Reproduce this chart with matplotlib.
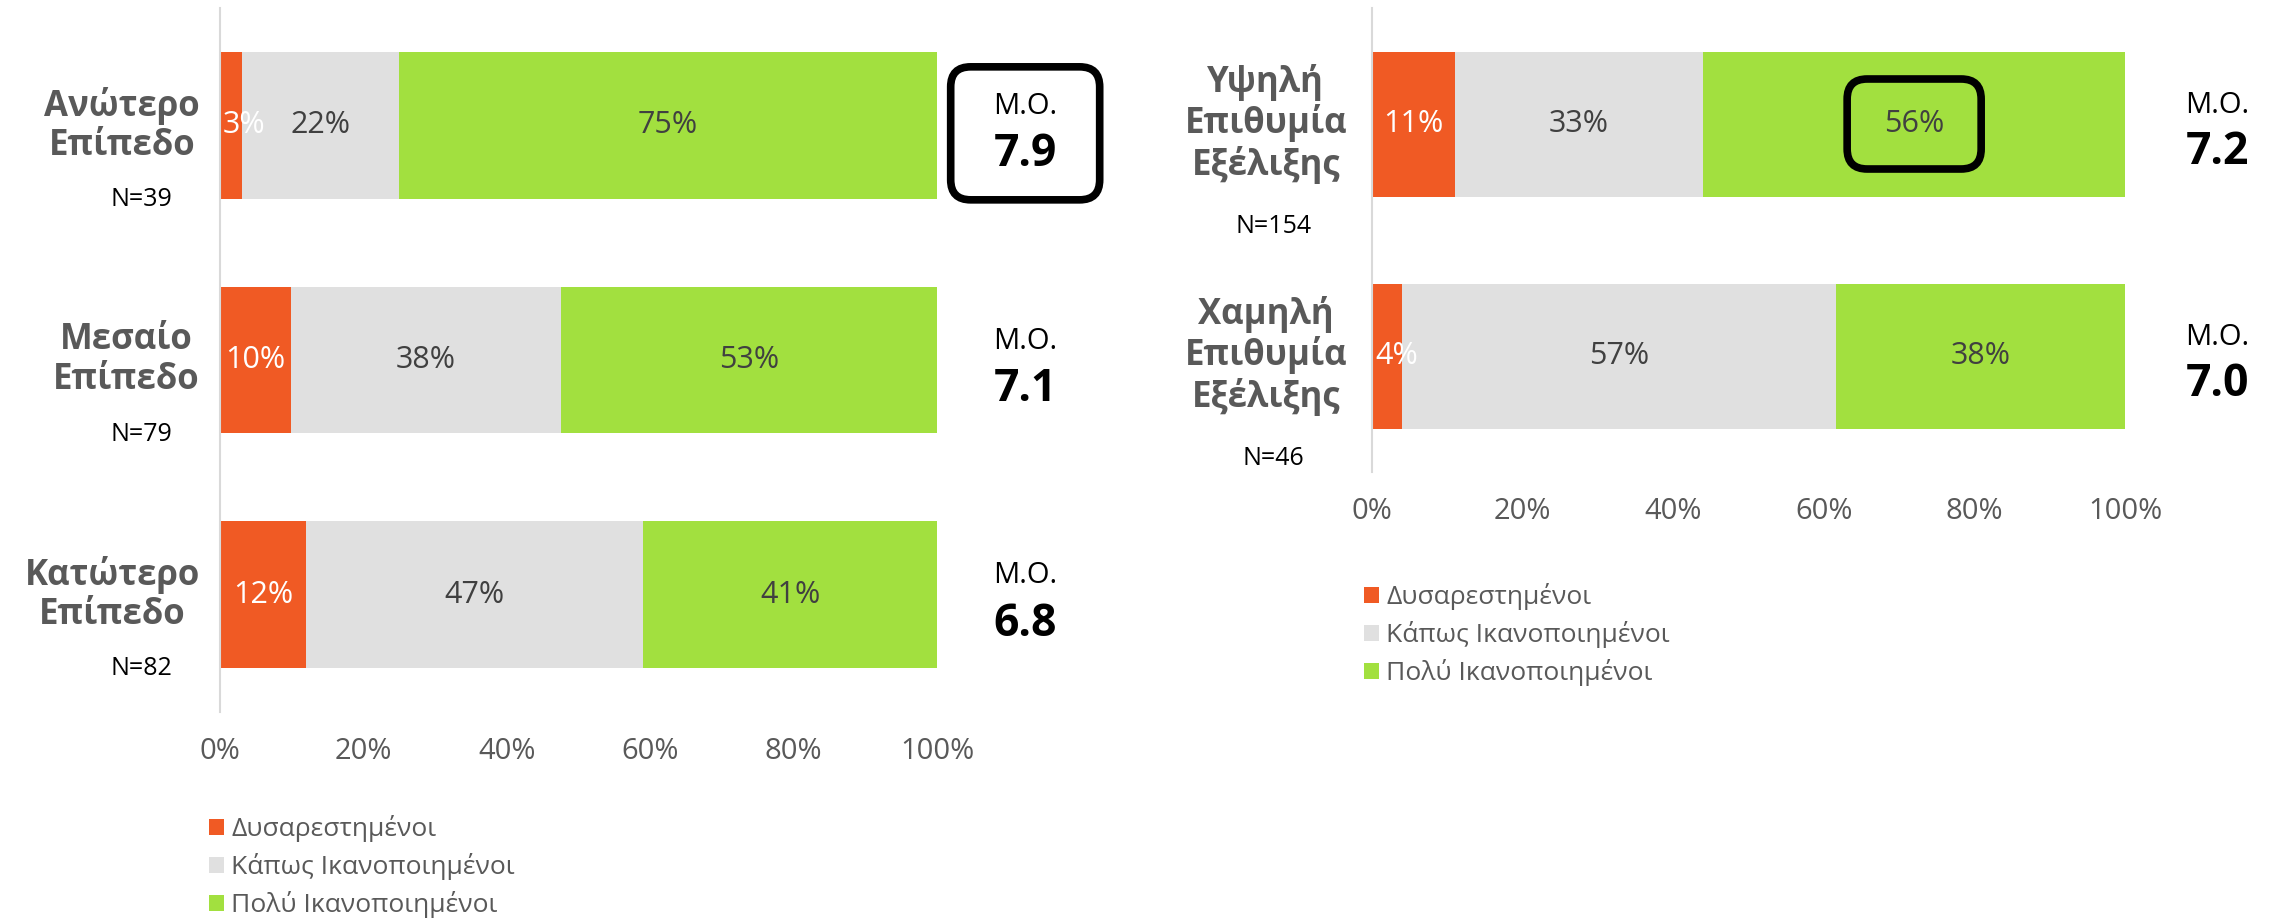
import numpy as np
import matplotlib.pyplot as plt
from matplotlib.patches import FancyBboxPatch
from matplotlib.transforms import IdentityTransform

plt.rcParams['font.family'] = ['Open Sans', 'DejaVu Sans']

# Σειρές και χρώματα
series = ['Δυσαρεστημένοι', 'Κάπως Ικανοποιημένοι', 'Πολύ Ικανοποιημένοι']
colors = ['#F05A24', '#E0E0E0', '#A2E03F']

# Αριστερό διάγραμμα: επίπεδο θέσης
left_cats = ['Ανώτερο\nΕπίπεδο', 'Μεσαίο\nΕπίπεδο', 'Κατώτερο\nΕπίπεδο']
left_n = ['N=39', 'N=79', 'N=82']
left_dis = [3, 10, 12]
left_some = [22, 38, 47]
left_very = [75, 53, 41]
left_mean = ['7.9', '7.1', '6.8']

# Δεξί διάγραμμα: επιθυμία εξέλιξης
right_cats = ['Υψηλή\nΕπιθυμία\nΕξέλιξης', 'Χαμηλή\nΕπιθυμία\nΕξέλιξης']
right_n = ['N=154', 'N=46']
right_dis = [11, 4]
right_some = [33, 57]
right_very = [56, 38]
right_mean = ['7.2', '7.0']

xticks = [0, 0.2, 0.4, 0.6, 0.8, 1.0]
xticklabels = ['0%', '20%', '40%', '60%', '80%', '100%']

W, H = 2272, 918
fig = plt.figure(figsize=(W / 100, H / 100), dpi=100)


def px_axes(x0, y0, x1, y1):
    return fig.add_axes([x0 / W, 1 - y1 / H, (x1 - x0) / W, (y1 - y0) / H])


def panel(ax, cats, ns, dis, some, very, means, lab_x, n_x, n_off):
    vals = np.array([dis, some, very], dtype=float)
    fr = vals / vals.sum(axis=0)
    y = np.arange(len(cats))
    left = np.zeros(len(cats))
    for i in range(3):
        ax.barh(y, fr[i], left=left, height=0.625, color=colors[i], label=series[i])
        for j in range(len(cats)):
            # στενά τμήματα: η ετικέτα μετακινείται λίγο δεξιά όπως στο Excel
            xc = max(left[j] + fr[i][j] / 2, 0.033)
            ax.text(xc, y[j], f'{int(vals[i][j])}%',
                    ha='center', va='center', fontsize=22, clip_on=True,
                    color='white' if i == 0 else '#404040')
        left += fr[i]
    ax.set_xlim(0, 1)
    ax.set_ylim(len(cats) - 0.5, -0.5)
    ax.set_xticks(xticks)
    ax.set_xticklabels(xticklabels)
    ax.set_yticks([])
    ax.tick_params(axis='x', length=0, pad=18, labelsize=21, labelcolor='#595959')
    for s in ['top', 'right', 'bottom']:
        ax.spines[s].set_visible(False)
    ax.spines['left'].set_color('#D9D9D9')
    ax.spines['left'].set_linewidth(1.5)

    for j in range(len(cats)):
        ax.text(lab_x, y[j], cats[j], ha='right', va='center', multialignment='center',
                fontsize=25, fontweight='bold', color='#595959', linespacing=1.12)
        ax.text(n_x, y[j] + n_off, ns[j], ha='center', va='center', fontsize=18, color='black')
        ax.text(1.123, y[j] - 0.08, 'Μ.Ο.', ha='center', va='center', fontsize=21, color='black')
        ax.text(1.123, y[j] + 0.125, means[j], ha='center', va='center', fontsize=32,
                fontweight='bold', color='black')


def rbox(ax, x, y, w, h, dy=0):
    cx, cy = ax.transData.transform((x, y))
    cy -= dy
    p = FancyBboxPatch((cx - w / 2, cy - h / 2), w, h,
                       boxstyle='round,pad=0,rounding_size=20',
                       transform=IdentityTransform(), fill=False,
                       edgecolor='black', linewidth=5.5)
    fig.add_artist(p)


ax1 = px_axes(220, 8, 937, 712)
panel(ax1, left_cats, left_n, left_dis, left_some, left_very, left_mean,
      lab_x=-0.028, n_x=-0.11, n_off=0.316)

ax2 = px_axes(1372, 8, 2125, 472)
panel(ax2, right_cats, right_n, right_dis, right_some, right_very, right_mean,
      lab_x=-0.033, n_x=-0.131, n_off=0.44)

# Πλαίσια έμφασης
rbox(ax1, 1.123, 0, 149, 133, dy=8)
rbox(ax2, 0.72, 0, 134, 90)

for ax, anchor in [(ax1, (209 / W, 1 - 815 / H)), (ax2, (1364 / W, 1 - 583 / H))]:
    h, l = ax.get_legend_handles_labels()
    fig.legend(h, l, loc='upper left', bbox_to_anchor=anchor, frameon=False,
               fontsize=19, labelcolor='#595959', handlelength=0.55, handleheight=0.55,
               handletextpad=0.3, labelspacing=0.42, borderpad=0, borderaxespad=0)

fig.savefig('out.png', dpi=100)
